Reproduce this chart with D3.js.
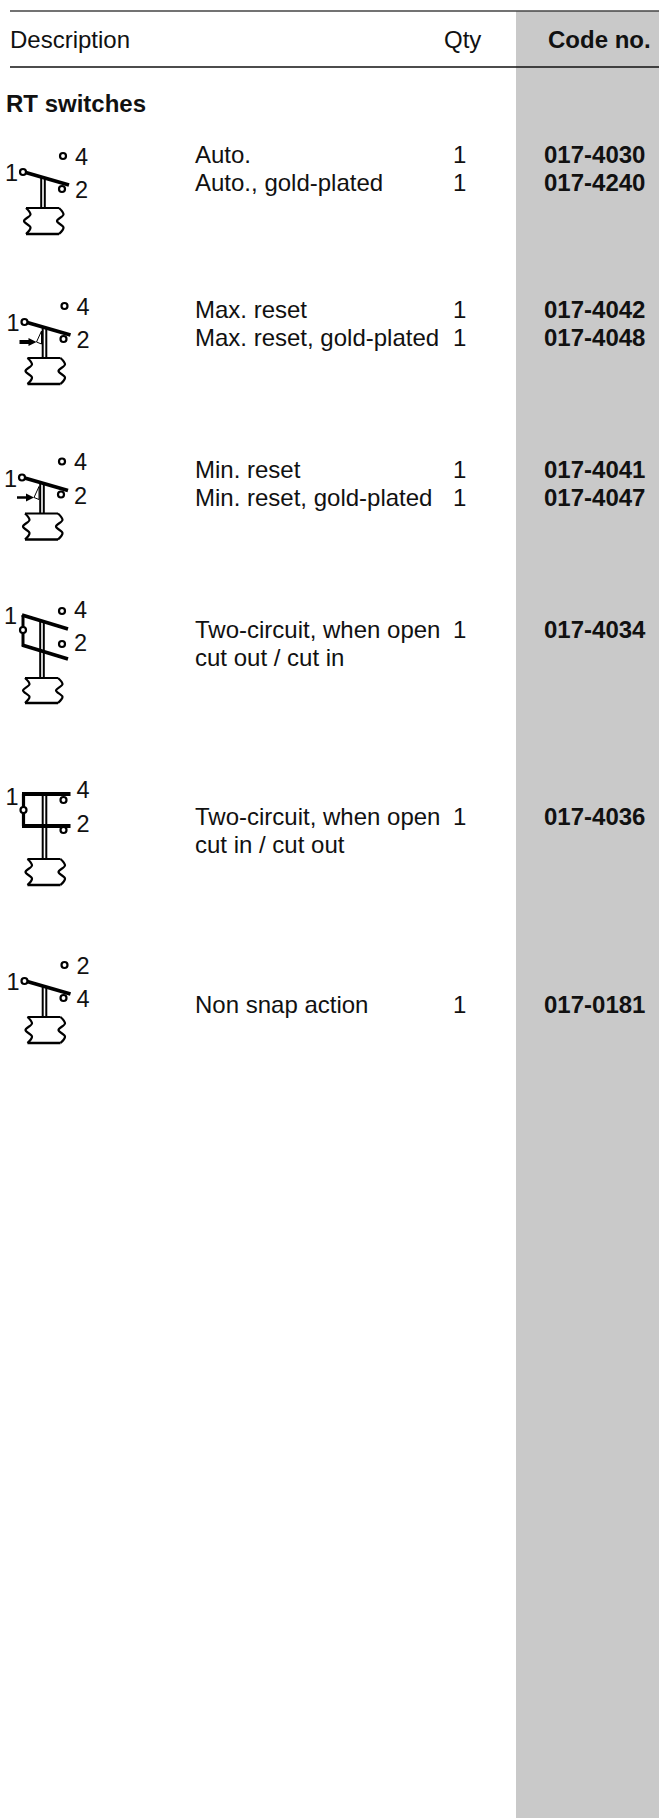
<!DOCTYPE html>
<html><head><meta charset="utf-8">
<script src="https://cdnjs.cloudflare.com/ajax/libs/d3/7.8.5/d3.min.js"></script>
<style>html,body{margin:0;padding:0;background:#fff}svg{display:block}text{font-family:"Liberation Sans",Arial,sans-serif;fill:#111}</style>
</head><body><svg id="c" width="659" height="1818"></svg>
<script>
const headers = ["Description", "Qty", "Code no."];
const sectionTitle = "RT switches";
const descriptions = [["Auto.", "Auto., gold-plated"], ["Max. reset", "Max. reset, gold-plated"], ["Min. reset", "Min. reset, gold-plated"], ["Two-circuit, when open", "cut out / cut in"], ["Two-circuit, when open", "cut in / cut out"], ["Non snap action"]];
const quantities = [["1", "1"], ["1", "1"], ["1", "1"], ["1"], ["1"], ["1"]];
const codes = [["017-4030", "017-4240"], ["017-4042", "017-4048"], ["017-4041", "017-4047"], ["017-4034"], ["017-4036"], ["017-0181"]];
const symbolKinds = ["lever", "maxReset", "minReset", "twoOpen", "twoClosed", "lever"];
const upperLabels = ["4", "4", "4", "4", "4", "2"];
const lowerLabels = ["2", "2", "2", "2", "2", "4"];

// layout, kept apart from the data
const W = 659, H = 1818, bandX = 516;
const firstBaselines = [163, 318, 478, 638, 825, 1013];
const symbolOrigins = [[0, 0], [1.5, 150], [-1, 305.5], [-1, 455], [1.5, 640], [1.5, 809]];
const lineStep = 27.5, fs = 24;

const svg = d3.select("#c");
svg.append("rect").attr("x", bandX).attr("y", 11).attr("width", W - bandX).attr("height", H - 11).attr("fill", "#c9c9c9");
[[11, 1.6, "#444"], [67, 1.3, "#111"]].forEach(([y, w, c]) => svg.append("line").attr("x1", 10).attr("x2", W).attr("y1", y).attr("y2", y).attr("stroke", c).attr("stroke-width", w));

const txt = (x, y, s, bold) => svg.append("text").attr("x", x).attr("y", y).attr("font-size", fs).attr("font-weight", bold ? 700 : 400).text(s);
txt(10, 48, headers[0]); txt(444, 48, headers[1]); txt(548, 48, headers[2], true);
txt(6, 112, sectionTitle, true);

descriptions.forEach((lines, r) => lines.forEach((s, i) => {
  const y = firstBaselines[r] + i * lineStep;
  txt(195, y, s); txt(453, y, quantities[r][i]); txt(544, y, codes[r][i], true);
}));

const line = d3.line(), stroke = (g, pts, w) => g.append("path").attr("d", line(pts)).attr("fill", "none").attr("stroke", "#000").attr("stroke-width", w).attr("stroke-linejoin", "miter");
const dot = (g, x, y) => g.append("circle").attr("cx", x).attr("cy", y).attr("r", 3).attr("fill", "#fff").attr("stroke", "#000").attr("stroke-width", 2.2);

function bellows(g, top, bottom) {
  const side = (x, d) => {
    const h = (bottom - top) / 4;
    const p = [[x + 1, top], [x + d, top + h], [x - 1, top + 2 * h], [x + d, top + 3 * h], [x + 1, bottom]];
    g.append("path").attr("d", d3.line().curve(d3.curveCatmullRom.alpha(0.5))(p)).attr("fill", "none").attr("stroke", "#000").attr("stroke-width", 2.2);
  };
  side(25, 5.5); side(58, 5.5);
  stroke(g, [[26, top], [59, top]], 2.2); stroke(g, [[26, bottom], [59, bottom]], 2.4);
}
function stem(g, y1, y2) { stroke(g, [[41.2, y1], [41.2, y2]], 2); stroke(g, [[44.8, y1], [44.8, y2]], 2); }
const label = (g, x, y, s) => g.append("text").attr("font-size", 23.5).attr("x", x).attr("y", y).text(s);

symbolKinds.forEach((kind, i) => {
  const g = svg.append("g").attr("transform", `translate(${symbolOrigins[i]})`);
  if (kind === "twoOpen") {
    label(g, 75, 163, upperLabels[i]); label(g, 75, 196, lowerLabels[i]); label(g, 5, 169, "1");
    dot(g, 63, 156); dot(g, 63, 189);
    stem(g, 167, 223); bellows(g, 223, 248);
    stroke(g, [[24, 160], [24, 191]], 3);
    stroke(g, [[23, 160], [69, 174]], 3.6);
    stroke(g, [[23, 190], [69, 204]], 3.6);
    dot(g, 24, 175);
  } else if (kind === "twoClosed") {
    label(g, 75, 158, upperLabels[i]); label(g, 75, 192, lowerLabels[i]); label(g, 4, 165, "1");
    stem(g, 154, 219); bellows(g, 219, 245);
    stroke(g, [[22, 154], [22, 186]], 3.2);
    stroke(g, [[20.5, 154], [69, 154]], 3.8);
    stroke(g, [[20.5, 186], [69, 186]], 3.8);
    dot(g, 62, 160); dot(g, 62, 190); dot(g, 22, 170);
  } else {
    label(g, 75, 164.5, upperLabels[i]); label(g, 75, 198, lowerLabels[i]); label(g, 5, 181, "1");
    dot(g, 63, 156);
    stem(g, 178, 208); bellows(g, 208, 234);
    stroke(g, [[24, 172], [69, 185]], 3.8);
    dot(g, 23, 172); dot(g, 62, 189);
    if (kind !== "lever") {
      stroke(g, [[18, 192], [28, 192]], kind === "maxReset" ? 4 : 2.5);
      g.append("path").attr("d", line([[27, 188], [35, 192], [27, 196]])).attr("fill", "#000");
      stroke(g, [[35, 192], [40, 181], [40, 194], [35, 192]], 1);
    }
  }
});
</script></body></html>
